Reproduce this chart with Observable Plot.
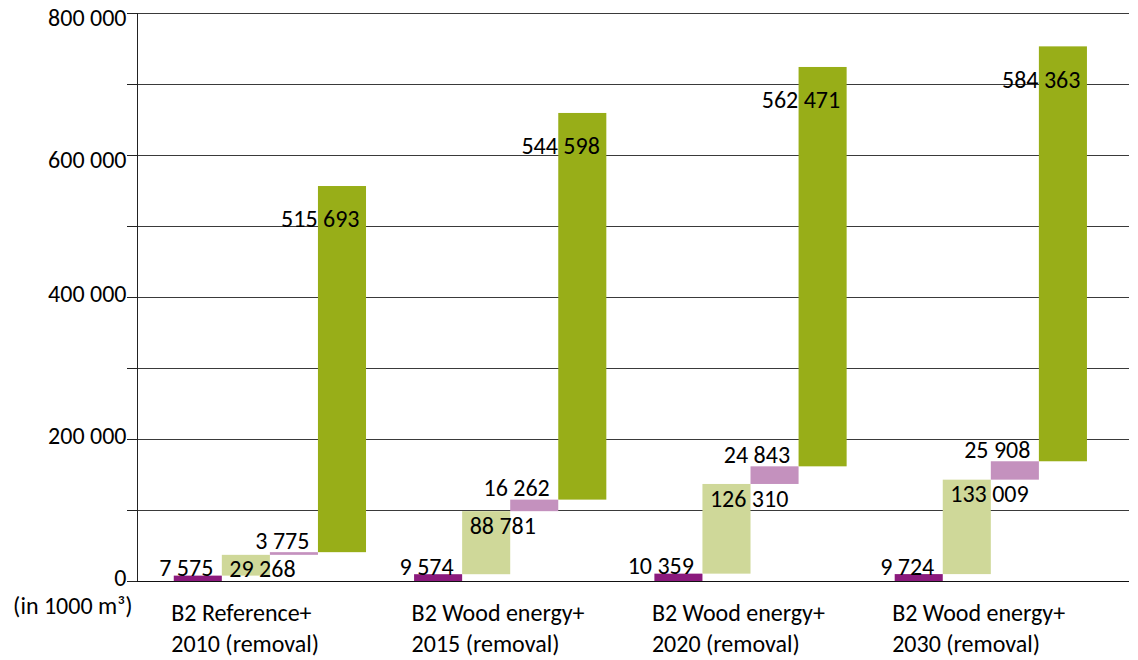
<!DOCTYPE html>
<html>
<head>
<meta charset="utf-8">
<script src="https://cdn.jsdelivr.net/npm/d3@7"></script>
<script src="https://cdn.jsdelivr.net/npm/@observablehq/plot@0.6"></script>
<style>
  body { margin: 0; background: #fff; }
  svg { display: block; }
</style>
</head>
<body>
<div id="chart"></div>
<script>
// Scenario groups (two-line category labels)
const groups = [
  "B2 Reference+\n2010 (removal)",
  "B2 Wood energy+\n2015 (removal)",
  "B2 Wood energy+\n2020 (removal)",
  "B2 Wood energy+\n2030 (removal)"
];

// Consecutive components of each cascade, stacked on top of one another
const step1 = [7575, 9574, 10359, 9724];
const step2 = [29268, 88781, 126310, 133009];
const step3 = [3775, 16262, 24843, 25908];
const step4 = [515693, 544598, 562471, 584363];

// Y axis ticks (every 100 000, labelled every 200 000)
const yTicks = [0, 100000, 200000, 300000, 400000, 500000, 600000, 700000, 800000];
const yLabelsLow = [0, 200000, 400000];
const yLabelsHigh = [600000, 800000];
const unitLabel = "(in 1000 m³)";

const colors = ["#8b1a7d", "#cfd899", "#c491be", "#98ae18"];

// Build the floating-bar table: each step starts where the previous one ended
const steps = [step1, step2, step3, step4];
const barW = 0.2; // width of one bar, in group units
const rows = [];
groups.forEach((g, i) => {
  let base = 0;
  steps.forEach((s, j) => {
    const v = s[i];
    rows.push({gi: i, step: j, value: v,
               x1: i + j * barW, x2: i + (j + 1) * barW,
               y1: base, y2: base + v});
    base += v;
  });
});

const fmt = d => d3.format(",")(d).replace(/,/g, " ");
const xMin = -0.153, xMax = 3.975;
const font = "Carlito, 'Open Sans', sans-serif";
const fs = 24;
const byStep = j => rows.filter(d => d.step === j);

const chart = Plot.plot({
  width: 1138,
  height: 660,
  marginLeft: 137,
  marginRight: 9,
  marginTop: 13,
  marginBottom: 79,
  style: {fontFamily: font, fontSize: fs + "px", color: "#000", background: "#fff"},
  x: {type: "linear", domain: [xMin, xMax], axis: null},
  y: {domain: [0, 800000], axis: null},
  marks: [
    // horizontal gridlines
    Plot.ruleY(yTicks.slice(1), {stroke: "#3a3a3a", strokeWidth: 1}),
    // floating bars
    Plot.rect(rows, {x1: "x1", x2: "x2", y1: "y1", y2: "y2", fill: d => colors[d.step]}),
    // axis lines
    Plot.frame({anchor: "left", stroke: "#222"}),
    Plot.ruleY([0], {stroke: "#111"}),
    // tick marks
    Plot.axisY({ticks: yTicks, tickSize: 10, tickFormat: () => "", label: null, stroke: "#222"}),
    // tick labels
    Plot.text(yLabelsLow, {x: xMin, y: d => d, text: fmt, textAnchor: "end", dx: -11, dy: -3, fontSize: fs, fill: "#000"}),
    Plot.text(yLabelsHigh, {x: xMin, y: d => d, text: fmt, textAnchor: "end", dx: -11, dy: 5, fontSize: fs, fill: "#000"}),
    // unit label
    Plot.text([unitLabel], {x: xMin, y: 0, text: d => d, textAnchor: "end", dx: -5, dy: 25, fontSize: fs, fill: "#000"}),
    // category labels
    Plot.text(groups, {x: (d, i) => i, y: 0, text: d => d, textAnchor: "start", lineAnchor: "top",
                       dx: -3, dy: 18, lineHeight: 1.29, fontSize: fs, fill: "#000"}),
    // value labels
    Plot.text(byStep(0), {x: "x2", y: "y2", text: d => fmt(d.value), textAnchor: "end", lineAnchor: "bottom",
                          dx: -9, dy: 0, fontSize: fs, fill: "#000"}),
    Plot.text(byStep(1), {x: "x1", y: "y2", text: d => fmt(d.value), textAnchor: "start", lineAnchor: "top",
                          dx: 7, dy: 5, fontSize: fs, fill: "#000"}),
    Plot.text(byStep(2), {x: "x2", y: "y2", text: d => fmt(d.value), textAnchor: "end", lineAnchor: "bottom",
                          dx: -9, dy: -4, fontSize: fs, fill: "#000"}),
    Plot.text(byStep(3), {x: "x2", y: "y2", text: d => fmt(d.value), textAnchor: "end", lineAnchor: "middle",
                          dx: -7, dy: 33, fontSize: fs, fill: "#000"})
  ]
});

document.getElementById("chart").appendChild(chart);
</script>
</body>
</html>
